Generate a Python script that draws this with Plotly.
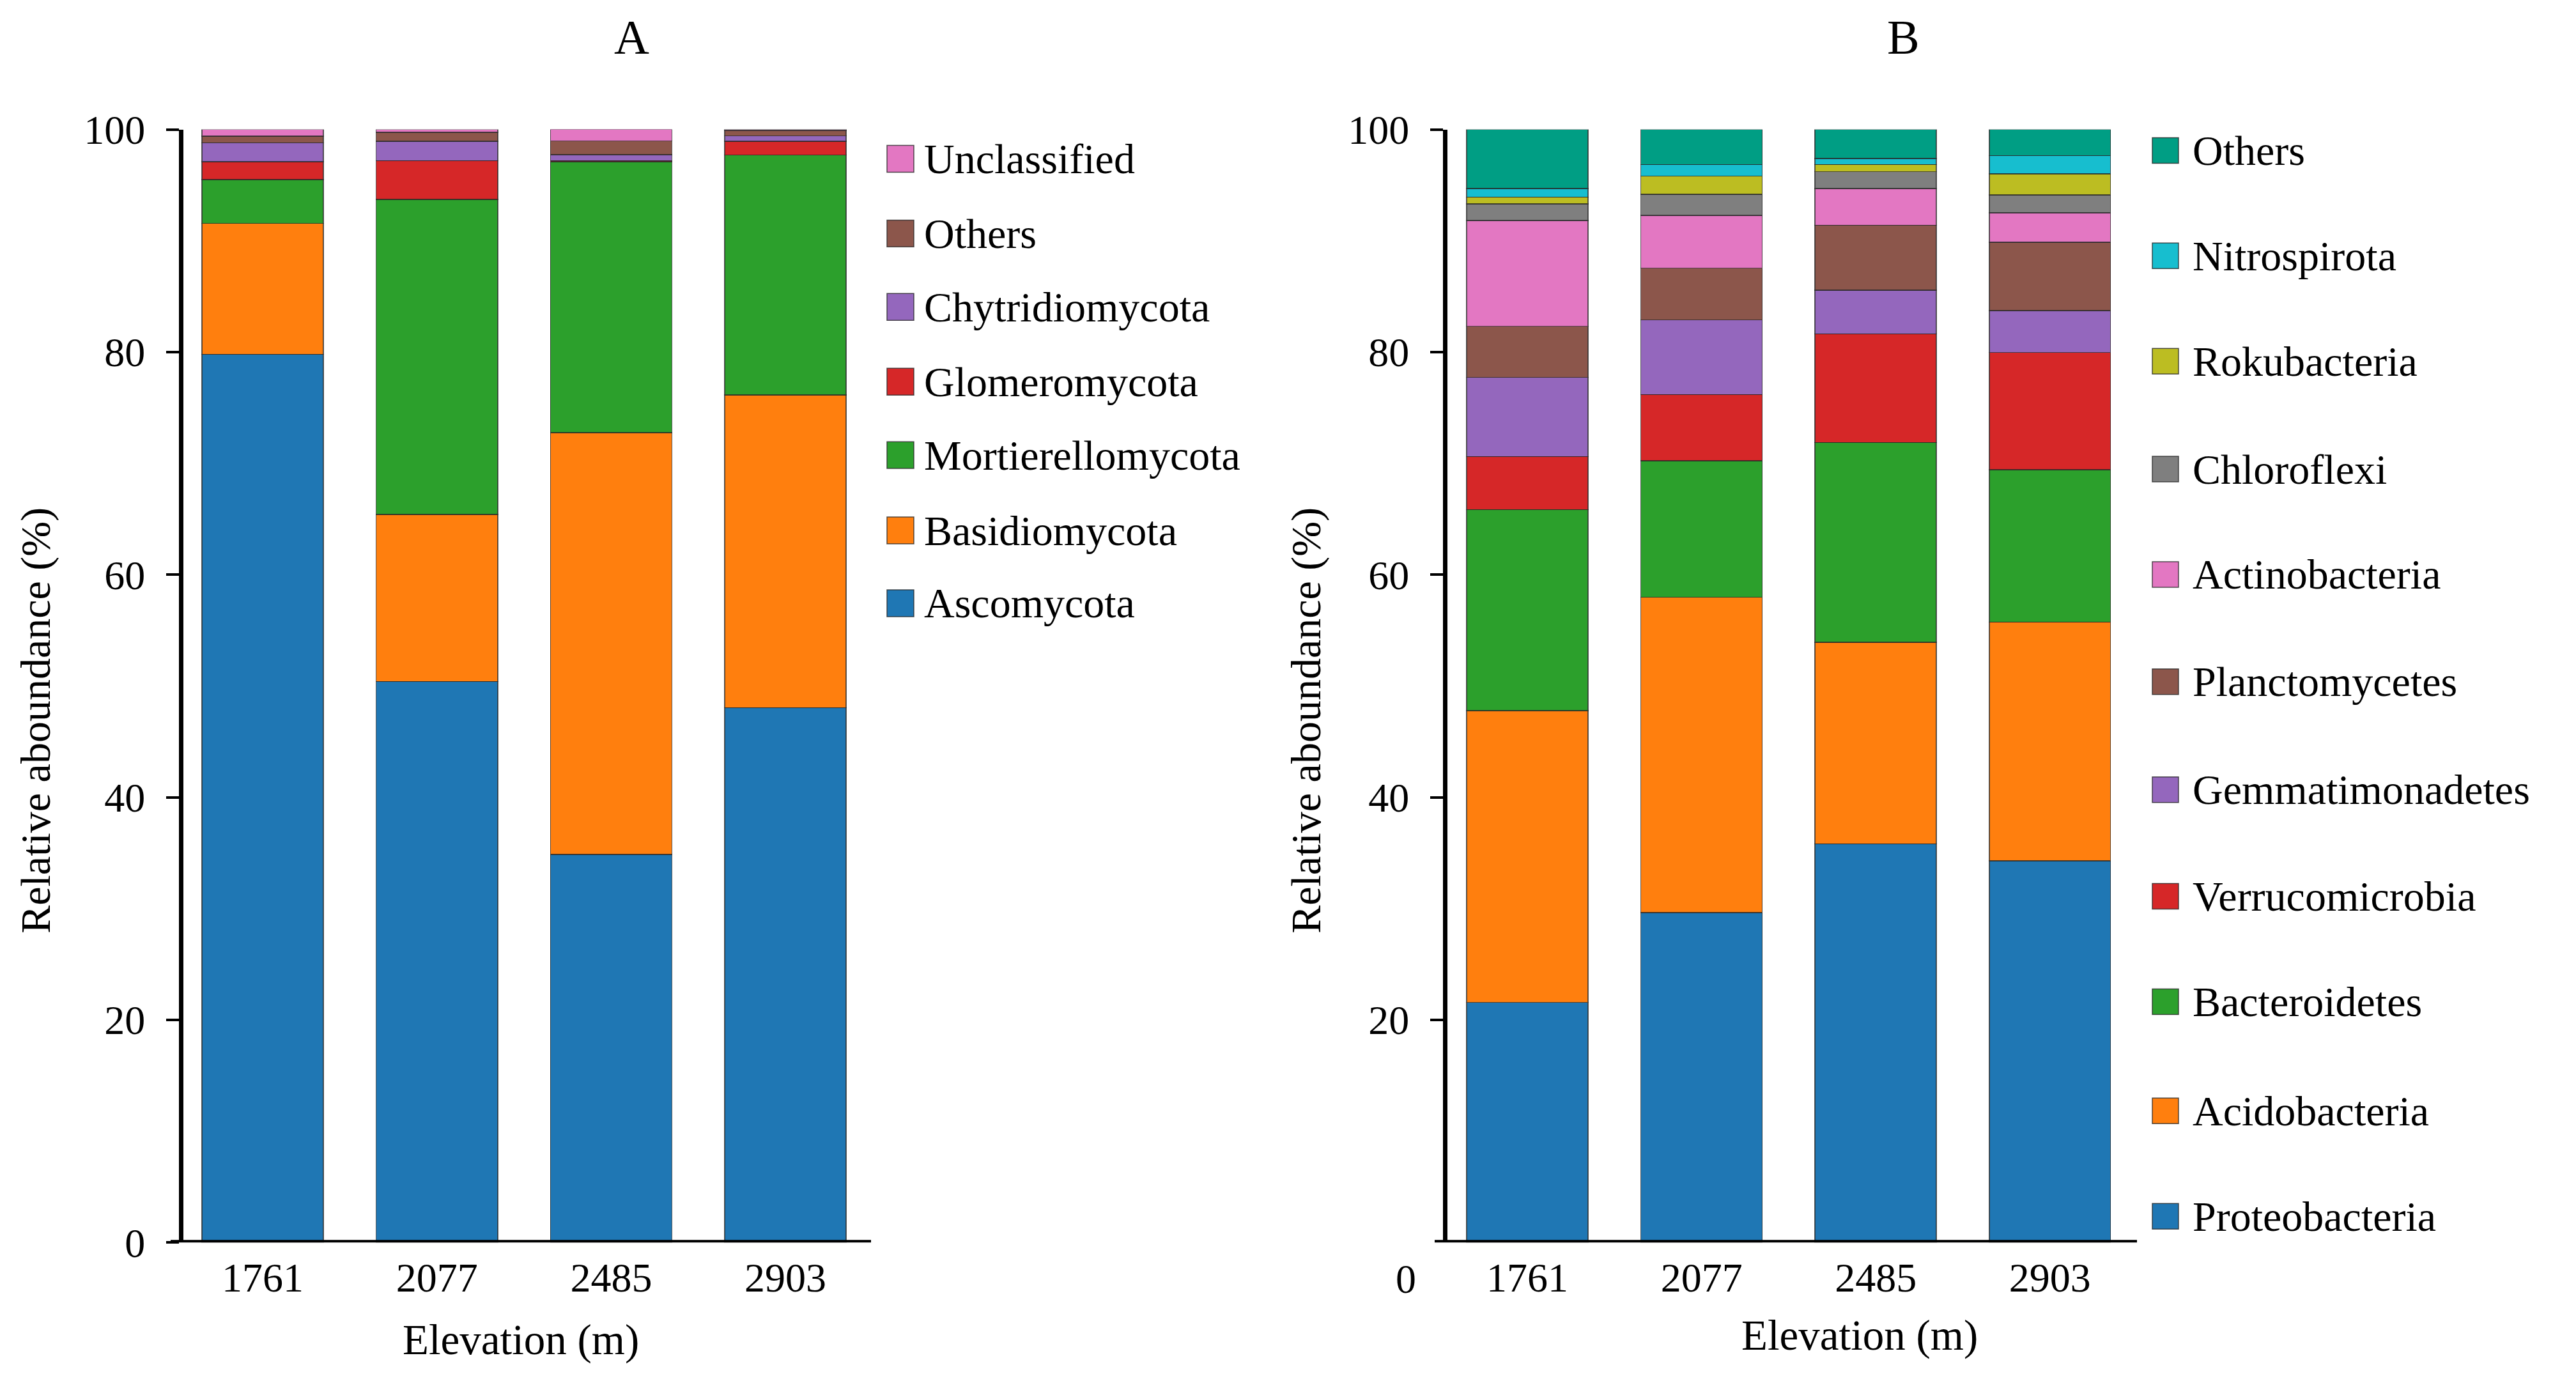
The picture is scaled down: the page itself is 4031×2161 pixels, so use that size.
import plotly.graph_objects as go

# ---------------- data ----------------
elevations = ["1761", "2077", "2485", "2903"]

# Panel A (fungi), stacking order bottom -> top
fungi_names = ["Ascomycota", "Basidiomycota", "Mortierellomycota", "Glomeromycota",
               "Chytridiomycota", "Others", "Unclassified"]
ascomycota = [79.8, 50.4, 34.85, 48.04]
basidiomycota = [11.75, 15.0, 37.9, 28.09]
mortierellomycota = [3.95, 28.3, 24.35, 21.57]
glomeromycota = [1.6, 3.5, 0.1, 1.24]
chytridiomycota = [1.7, 1.75, 0.52, 0.48]
others_fungi = [0.6, 0.8, 1.24, 0.48]
unclassified_fungi = [0.6, 0.25, 1.05, 0.1]
fungi_values = [ascomycota, basidiomycota, mortierellomycota, glomeromycota,
                chytridiomycota, others_fungi, unclassified_fungi]
fungi_colors = ["#1f77b4", "#ff7f0e", "#2ca02c", "#d62728", "#9467bd", "#8c564b", "#e377c2"]

# Panel B (bacteria), stacking order bottom -> top
bact_names = ["Proteobacteria", "Acidobacteria", "Bacteroidetes", "Verrucomicrobia",
              "Gemmatimonadetes", "Planctomycetes", "Actinobacteria", "Chloroflexi",
              "Rokubacteria", "Nitrospirota", "Others"]
proteobacteria = [21.57, 29.65, 35.82, 34.28]
acidobacteria = [26.21, 28.31, 18.11, 21.46]
bacteroidetes = [18.06, 12.27, 17.94, 13.70]
verrucomicrobia = [4.77, 5.95, 9.77, 10.52]
gemmatimonadetes = [7.11, 6.70, 3.92, 3.75]
planctomycetes = [4.59, 4.65, 5.83, 6.15]
actinobacteria = [9.50, 4.76, 3.31, 2.64]
chloroflexi = [1.50, 1.88, 1.51, 1.61]
rokubacteria = [0.61, 1.63, 0.64, 1.89]
nitrospirota = [0.76, 1.05, 0.53, 1.65]
others_bact = [5.32, 3.15, 2.62, 2.35]
bact_values = [proteobacteria, acidobacteria, bacteroidetes, verrucomicrobia,
               gemmatimonadetes, planctomycetes, actinobacteria, chloroflexi,
               rokubacteria, nitrospirota, others_bact]
bact_colors = ["#1f77b4", "#ff7f0e", "#2ca02c", "#d62728", "#9467bd", "#8c564b",
               "#e377c2", "#7f7f7f", "#bcbd22", "#17becf", "#009e84"]

y_ticks = [0, 20, 40, 60, 80, 100]

# ---------------- layout helpers ----------------
W, H = 4031, 2161
FONT = "Liberation Serif, Times New Roman, serif"


def px(x):
    # horizontal calibration (page margin)
    return (x - 8) / W


def py(y):
    # vertical calibration of the rendered page
    y_adj = (y / 2.5714 - 15.7) / 0.3764
    return 1 - y_adj / H


fig = go.Figure()

for name, vals, col in zip(fungi_names, fungi_values, fungi_colors):
    fig.add_trace(go.Bar(x=elevations, y=vals, name=name, marker_color=col,
                         marker_line=dict(color="rgba(40,40,40,0.75)", width=1.5),
                         xaxis="x", yaxis="y", showlegend=False))

for name, vals, col in zip(bact_names, bact_values, bact_colors):
    fig.add_trace(go.Bar(x=elevations, y=vals, name=name, marker_color=col,
                         marker_line=dict(color="rgba(40,40,40,0.75)", width=1.5),
                         xaxis="x2", yaxis="y2", showlegend=False))

ydom = [py(1943), py(200)]
common_y = dict(range=[0, 100], showgrid=False, zeroline=False, showline=True,
                linecolor="black", linewidth=7, ticks="outside", ticklen=20,
                tickwidth=4, tickcolor="black", ticklabelstandoff=20,
                tickfont=dict(family=FONT, size=64, color="black"))
common_x = dict(showgrid=False, zeroline=False, showline=False, ticks="",
                type="category", ticklabelstandoff=12,
                tickfont=dict(family=FONT, size=64, color="black"))

fig.update_layout(
    width=W, height=H, autosize=False,
    margin=dict(l=0, r=0, t=0, b=0),
    paper_bgcolor="white", plot_bgcolor="white",
    barmode="stack", bargap=0.303,
    font=dict(family=FONT, color="black"),
    xaxis=dict(domain=[px(287), px(1363)], range=[-0.455, 3.491], anchor="y", **common_x),
    yaxis=dict(domain=ydom, anchor="x", tickvals=y_ticks, **common_y),
    xaxis2=dict(domain=[px(2265), px(3344)], range=[-0.459, 3.50], anchor="y2", **common_x),
    yaxis2=dict(domain=ydom, anchor="x2", tickvals=y_ticks[1:], **common_y),
)

shapes = []
annotations = []


def label(text, x, y, size, angle=0, xanchor="center"):
    annotations.append(dict(text=text, x=px(x), y=py(y), xref="paper", yref="paper",
                            xanchor=xanchor, yanchor="middle", textangle=angle,
                            showarrow=False, font=dict(family=FONT, size=size, color="black")))


# x-axis baselines (extend to the left end of the y ticks)
shapes.append(dict(type="line", xref="paper", yref="y", x0=px(267), x1=px(1363), y0=0, y1=0,
                   line=dict(color="black", width=8)))
shapes.append(dict(type="line", xref="paper", yref="y2", x0=px(2245), x1=px(3344), y0=0, y1=0,
                   line=dict(color="black", width=8)))

# panel titles
label("A", 988, 55, 76)
label("B", 2978, 55, 76)

# axis titles
label("Elevation (m)", 815, 2095, 67)
label("Elevation (m)", 2910, 2088, 67)
label("Relative aboundance (%)", 56, 1126, 66, angle=-90)
label("Relative aboundance (%)", 2044, 1126, 66, angle=-90)

# the displaced "0" label of panel B
label(str(y_ticks[0]), 2200, 2000, 64)

# legends (drawn manually so the swatches keep their large size)
legA_y = [246, 363, 478, 595, 710, 828, 942]
for i, (name, col) in enumerate(zip(fungi_names[::-1], fungi_colors[::-1])):
    yc = legA_y[i]
    shapes.append(dict(type="rect", xref="paper", yref="paper",
                       x0=px(1388), x1=px(1430), y0=py(yc + 21), y1=py(yc - 21),
                       fillcolor=col, line=dict(color="rgba(40,40,40,0.8)", width=1.5)))
    label(name, 1444, yc, 66, xanchor="left")

legB_y = [233, 398, 563, 732, 897, 1065, 1234, 1401, 1566, 1737, 1902]
for i, (name, col) in enumerate(zip(bact_names[::-1], bact_colors[::-1])):
    yc = legB_y[i]
    shapes.append(dict(type="rect", xref="paper", yref="paper",
                       x0=px(3368), x1=px(3409), y0=py(yc + 20), y1=py(yc - 20),
                       fillcolor=col, line=dict(color="rgba(40,40,40,0.8)", width=1.5)))
    label(name, 3429, yc, 66, xanchor="left")

fig.update_layout(shapes=shapes, annotations=annotations)

fig.write_html("out.html")
